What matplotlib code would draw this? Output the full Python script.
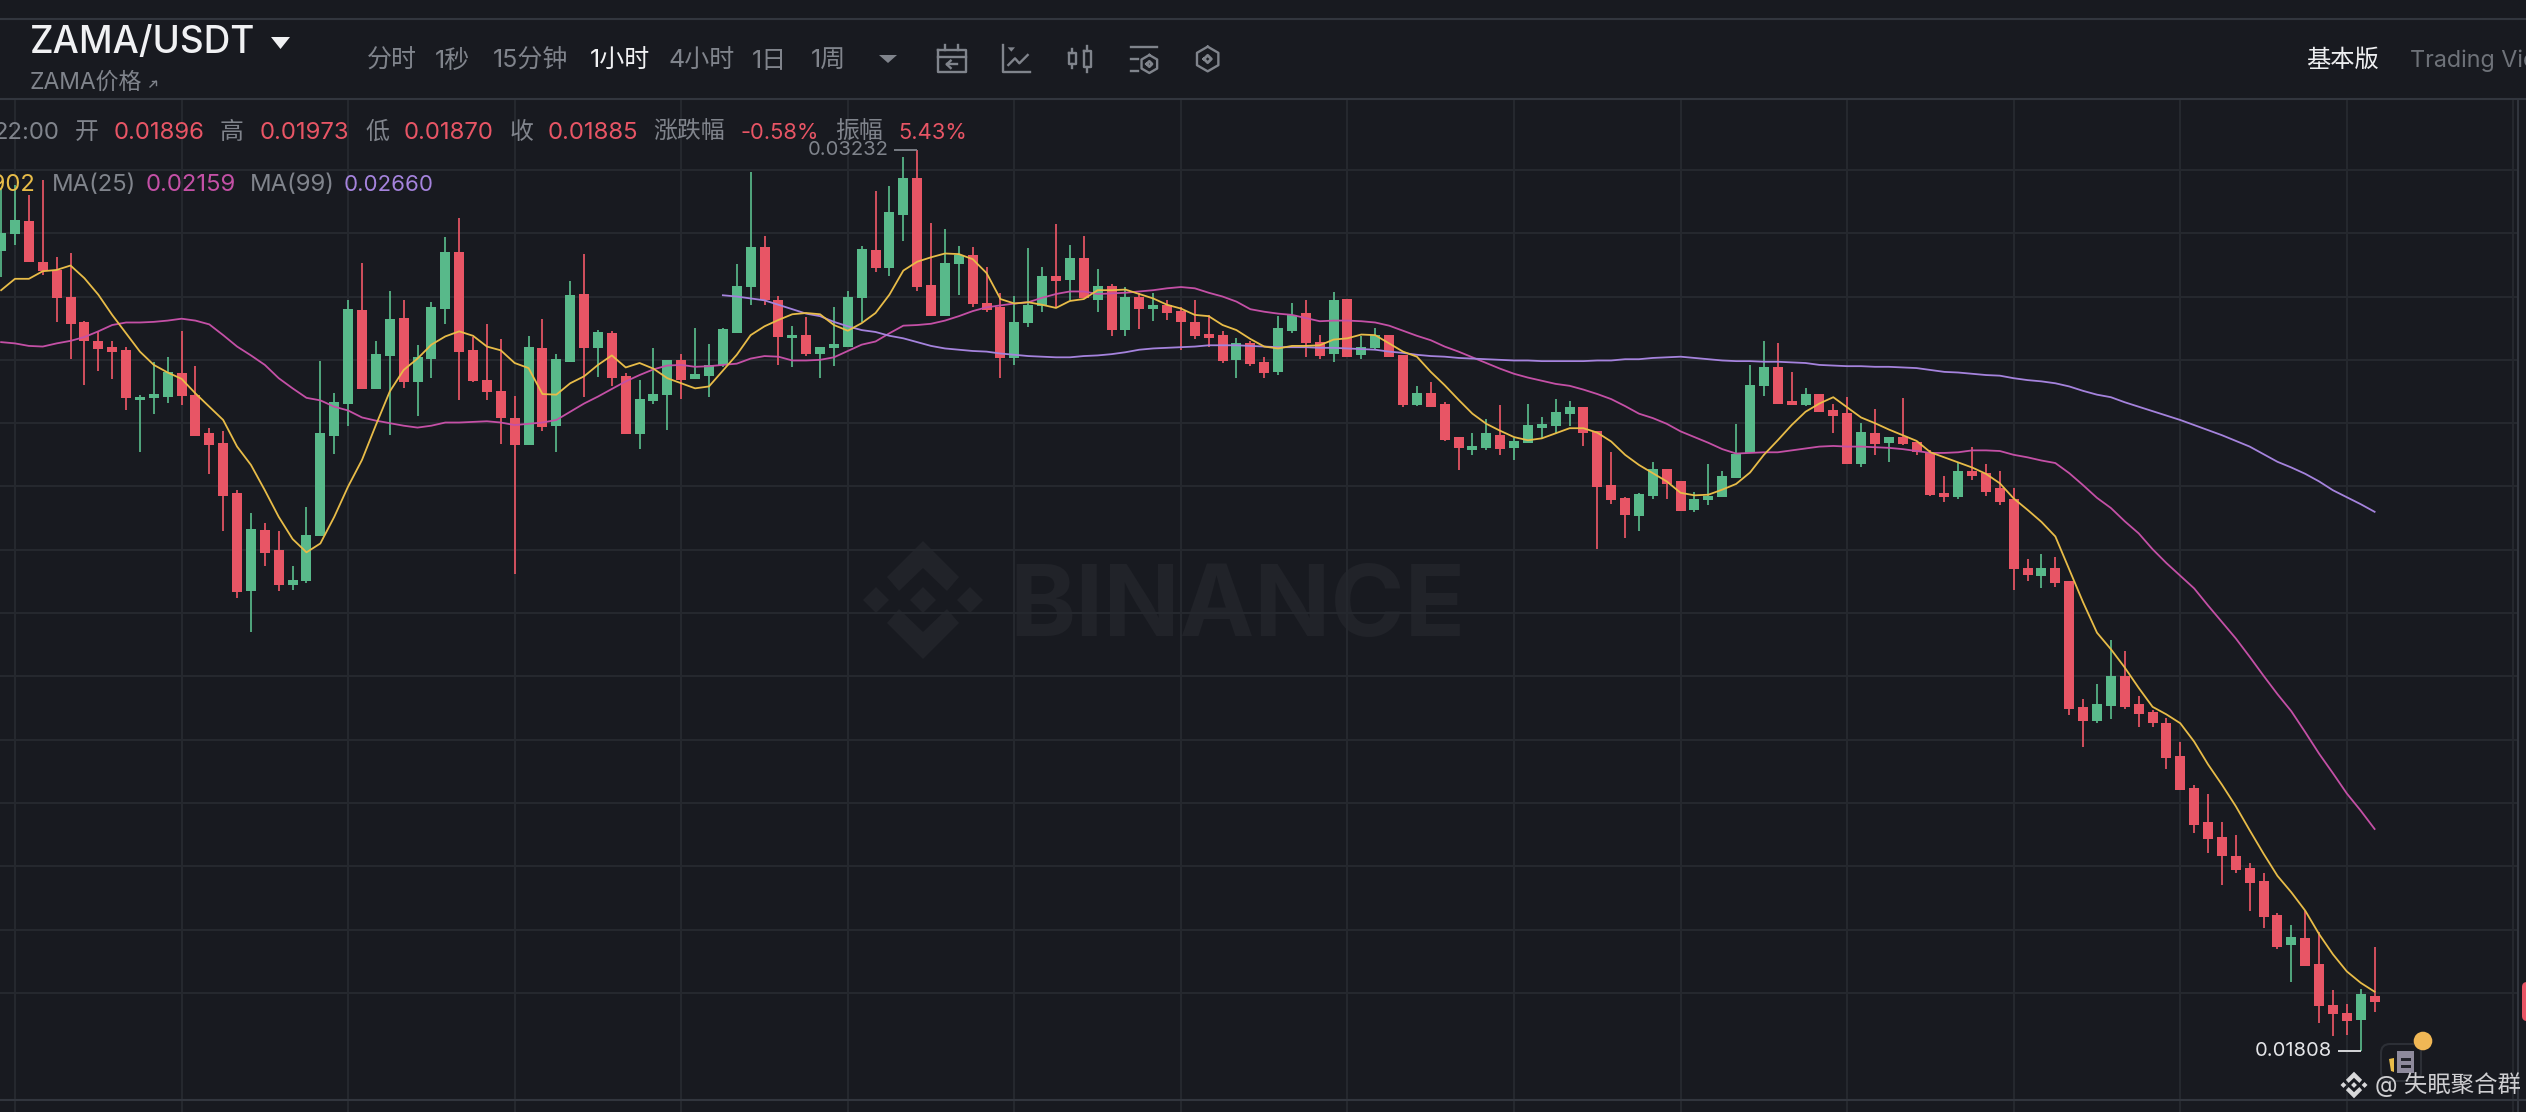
"""ZAMA/USDT 1h candles, dark Binance chart screenshot."""
import matplotlib
matplotlib.use("Agg")
import matplotlib.pyplot as plt
import matplotlib.patches as mpatches
import numpy as np

W, H = 2526, 1112

# Prices in units of 0.00001 USDT, one value per candle, candle -1 is cut by the left edge
first_candle = -1
opens = [
    3072, 3098, 3120, 3055, 3042, 3000, 2959, 2930, 2920, 2916,
    2837, 2839, 2842, 2880, 2845, 2784, 2768, 2689, 2535, 2631,
    2600, 2544, 2551, 2622, 2780, 2830, 2979, 2854, 2906, 2966,
    2865, 2901, 2980, 3071, 2916, 2868, 2851, 2808, 2766, 2919,
    2795, 2897, 3004, 2918, 2943, 2875, 2783, 2835, 2845, 2899,
    2870, 2875, 2892, 2943, 3015, 3079, 2994, 2934, 2939, 2909,
    2918, 2921, 2997, 3073, 3045, 3129, 3188, 3018, 2970, 3052,
    3066, 2990, 2983, 2903, 2958, 2985, 3033, 3026, 3061, 2995,
    3017, 2947, 3000, 2981, 2986, 2977, 2960, 2941, 2939, 2899,
    2926, 2896, 2881, 2946, 2974, 2928, 2909, 2996, 2908, 2919,
    2940, 2908, 2828, 2847, 2831, 2778, 2758, 2761, 2782, 2760,
    2769, 2792, 2796, 2815, 2825, 2787, 2702, 2682, 2654, 2685,
    2727, 2708, 2663, 2679, 2684, 2714, 2753, 2859, 2888, 2835,
    2829, 2846, 2820, 2816, 2735, 2785, 2768, 2778, 2770, 2755,
    2690, 2683, 2725, 2721, 2697, 2680, 2572, 2559, 2572, 2551,
    2351, 2330, 2354, 2400, 2357, 2343, 2326, 2274, 2224, 2170,
    2147, 2117, 2098, 2077, 2023, 1975, 1987, 1945, 1881, 1869, 1858, 1896,
]
closes = [
    3101, 3121, 3054, 3040, 2997, 2957, 2929, 2917, 2912, 2839,
    2842, 2846, 2881, 2843, 2780, 2766, 2685, 2534, 2633, 2595,
    2544, 2553, 2623, 2784, 2834, 2980, 2854, 2909, 2965, 2865,
    2904, 2983, 3071, 2913, 2866, 2850, 2808, 2766, 2920, 2794,
    2901, 3003, 2918, 2944, 2871, 2783, 2838, 2846, 2899, 2868,
    2878, 2892, 2948, 3017, 3079, 2994, 2936, 2939, 2909, 2921,
    2925, 3000, 3075, 3045, 3133, 3188, 3015, 2970, 3053, 3066,
    2988, 2978, 2903, 2960, 2986, 3033, 3025, 3061, 2997, 3016,
    2947, 3000, 2980, 2987, 2974, 2959, 2938, 2935, 2898, 2926,
    2894, 2879, 2950, 2971, 2926, 2906, 2995, 2905, 2920, 2939,
    2905, 2828, 2847, 2826, 2773, 2761, 2764, 2784, 2759, 2772,
    2797, 2799, 2817, 2825, 2784, 2699, 2678, 2655, 2688, 2727,
    2704, 2662, 2681, 2685, 2717, 2752, 2861, 2888, 2831, 2829,
    2846, 2818, 2811, 2736, 2786, 2767, 2778, 2767, 2754, 2687,
    2683, 2725, 2717, 2692, 2676, 2569, 2560, 2572, 2547, 2349,
    2330, 2356, 2401, 2351, 2340, 2326, 2271, 2220, 2166, 2143,
    2116, 2094, 2074, 2020, 1973, 1988, 1942, 1879, 1867, 1856, 1898, 1885,
]
highs = [
    3171, 3176, 3161, 3184, 3062, 3068, 2962, 2945, 2930, 2921,
    2844, 2897, 2905, 2946, 2891, 2793, 2788, 2694, 2658, 2643,
    2630, 2574, 2668, 2898, 2847, 2995, 3053, 2929, 3008, 2995,
    2923, 2991, 3094, 3124, 2936, 2957, 2933, 2843, 2938, 2965,
    2910, 3024, 3067, 2947, 2945, 2880, 2868, 2918, 2900, 2909,
    2951, 2925, 2951, 3051, 3196, 3096, 3001, 2953, 2968, 2921,
    2984, 3008, 3080, 3167, 3175, 3221, 3232, 3116, 3107, 3080,
    3078, 3046, 3006, 3001, 3076, 3046, 3114, 3082, 3096, 3043,
    3020, 3015, 3005, 3005, 2995, 2984, 2994, 2971, 2945, 2934,
    2930, 2904, 2969, 2989, 2994, 2939, 3007, 2996, 2938, 2950,
    2940, 2908, 2859, 2865, 2833, 2778, 2784, 2807, 2828, 2776,
    2830, 2809, 2838, 2835, 2826, 2788, 2754, 2684, 2689, 2738,
    2727, 2708, 2691, 2736, 2725, 2799, 2892, 2929, 2926, 2881,
    2855, 2846, 2831, 2842, 2800, 2822, 2778, 2839, 2770, 2758,
    2717, 2737, 2762, 2735, 2724, 2698, 2585, 2593, 2588, 2551,
    2365, 2388, 2457, 2440, 2369, 2347, 2334, 2297, 2228, 2215,
    2170, 2150, 2105, 2090, 2026, 2007, 2030, 1996, 1905, 1882, 1907, 1973,
]
lows = [
    3031, 3082, 3054, 3034, 2959, 2902, 2860, 2883, 2870, 2821,
    2755, 2814, 2832, 2828, 2780, 2720, 2629, 2524, 2470, 2574,
    2535, 2537, 2548, 2622, 2751, 2796, 2854, 2854, 2781, 2855,
    2812, 2871, 2957, 2837, 2865, 2837, 2767, 2562, 2766, 2787,
    2755, 2896, 2841, 2873, 2859, 2783, 2759, 2831, 2789, 2838,
    2870, 2841, 2888, 2942, 2987, 2986, 2892, 2889, 2906, 2871,
    2890, 2921, 2959, 3039, 3032, 3087, 3009, 2970, 2970, 3003,
    2983, 2976, 2871, 2892, 2952, 2976, 2984, 2995, 2997, 2976,
    2938, 2938, 2949, 2962, 2963, 2915, 2933, 2920, 2895, 2872,
    2890, 2871, 2876, 2942, 2904, 2901, 2896, 2904, 2901, 2917,
    2905, 2826, 2827, 2826, 2772, 2726, 2749, 2757, 2749, 2742,
    2768, 2776, 2784, 2796, 2764, 2601, 2672, 2619, 2629, 2680,
    2680, 2662, 2659, 2671, 2683, 2714, 2753, 2843, 2831, 2829,
    2827, 2818, 2784, 2736, 2731, 2749, 2738, 2766, 2749, 2685,
    2675, 2680, 2710, 2685, 2671, 2536, 2551, 2539, 2542, 2339,
    2289, 2327, 2333, 2349, 2320, 2320, 2254, 2220, 2153, 2121,
    2070, 2090, 2029, 2002, 1970, 1917, 1942, 1852, 1832, 1833, 1808, 1870,
]

ma7 = [
    3010, 3028, 3028, 3040, 3042, 3049, 3029, 3003, 2971, 2942,
    2913, 2892, 2880, 2870, 2847, 2826, 2805, 2763, 2734, 2694,
    2652, 2617, 2596, 2610, 2652, 2700, 2742, 2797, 2850, 2884,
    2902, 2924, 2937, 2945, 2938, 2921, 2915, 2895, 2887, 2846,
    2845, 2863, 2874, 2892, 2907, 2888, 2895, 2886, 2871, 2863,
    2855, 2858, 2883, 2908, 2939, 2953, 2963, 2972, 2974, 2972,
    2955, 2946, 2958, 2974, 3003, 3041, 3055, 3062, 3068, 3067,
    3059, 3037, 2996, 2989, 2991, 2987, 2982, 2993, 2996, 3010,
    3010, 3011, 3004, 2997, 2987, 2981, 2971, 2969, 2955, 2947,
    2933, 2921, 2918, 2922, 2922, 2923, 2932, 2934, 2940, 2939,
    2926, 2913, 2905, 2881, 2860, 2837, 2815, 2799, 2788, 2778,
    2773, 2776, 2784, 2792, 2792, 2785, 2771, 2750, 2734, 2721,
    2708, 2690, 2686, 2687, 2695, 2704, 2722, 2750, 2773, 2797,
    2818, 2831, 2841, 2825, 2809, 2800, 2790, 2781, 2772, 2754,
    2746, 2738, 2730, 2720, 2705, 2681, 2663, 2644, 2621, 2569,
    2517, 2469, 2443, 2414, 2382, 2352, 2340, 2326, 2297, 2261,
    2229, 2195, 2157, 2120, 2085, 2059, 2030, 1993, 1961, 1934, 1916, 1902,
]
ma25 = [
    2928, 2926, 2922, 2921, 2926, 2930, 2936, 2945, 2955, 2959,
    2959, 2960, 2962, 2965, 2962, 2956, 2939, 2921, 2907, 2892,
    2871, 2855, 2840, 2836, 2826, 2820, 2809, 2804, 2800, 2796,
    2793, 2796, 2801, 2801, 2802, 2803, 2801, 2797, 2799, 2801,
    2805, 2818, 2831, 2842, 2854, 2866, 2876, 2885, 2891, 2892,
    2889, 2890, 2892, 2894, 2902, 2906, 2905, 2899, 2899, 2900,
    2904, 2914, 2924, 2929, 2942, 2954, 2955, 2957, 2962, 2969,
    2977, 2983, 2986, 2989, 2991, 2998, 3004, 3008, 3008, 3004,
    3005, 3006, 3008, 3010, 3013, 3015, 3013, 3006, 3000, 2992,
    2980, 2976, 2973, 2971, 2966, 2961, 2962, 2962, 2961, 2959,
    2954, 2946, 2938, 2931, 2921, 2913, 2904, 2895, 2886, 2878,
    2872, 2867, 2862, 2859, 2853, 2846, 2838, 2827, 2815, 2808,
    2799, 2787, 2778, 2769, 2759, 2752, 2753, 2754, 2754, 2757,
    2760, 2763, 2764, 2763, 2763, 2762, 2761, 2759, 2756, 2753,
    2753, 2754, 2757, 2757, 2756, 2750, 2746, 2741, 2737, 2721,
    2702, 2682, 2666, 2645, 2626, 2601, 2579, 2559, 2539, 2512,
    2486, 2460, 2431, 2401, 2372, 2345, 2312, 2278, 2247, 2215, 2188, 2159,
]
# MA(99) only starts at candle 51
ma99_first = 51
ma99 = [
    3002, 3000, 2997, 2994, 2987, 2980, 2973, 2969,
    2960, 2953, 2947, 2944, 2938, 2934, 2928, 2922, 2918, 2916,
    2914, 2913, 2910, 2908, 2906, 2905, 2904, 2904, 2906, 2907,
    2909, 2912, 2916, 2918, 2919, 2920, 2921, 2923, 2923, 2923,
    2922, 2921, 2920, 2920, 2920, 2919, 2919, 2918, 2917, 2916,
    2913, 2911, 2908, 2906, 2905, 2903, 2902, 2901, 2900, 2899,
    2899, 2898, 2898, 2898, 2898, 2899, 2899, 2901, 2901, 2903,
    2904, 2905, 2903, 2901, 2899, 2898, 2898, 2897, 2897, 2896,
    2895, 2892, 2891, 2890, 2890, 2889, 2889, 2888, 2887, 2884,
    2881, 2880, 2878, 2876, 2875, 2871, 2868, 2866, 2863, 2858,
    2851, 2845, 2841, 2833, 2826, 2819, 2812, 2805, 2797, 2789,
    2781, 2772, 2763, 2751, 2739, 2730, 2720, 2708, 2694, 2683, 2672, 2660,
]

interval_labels = ["分时", "1秒", "15分钟", "1小时", "4小时", "1日", "1周"]
ohlc_labels = ["开", "高", "低", "收"]
ohlc_values = ["0.01896", "0.01973", "0.01870", "0.01885"]

BG = "#181A20"
GRID = "#26292F"
RULE = "#32363E"
GRAY = "#80848C"
UP = "#58B98A"
DOWN = "#E85565"
YELLOW = "#E8BC48"
MAGENTA = "#C450A6"
PURPLE = "#A583DD"
FONT = ["Inter", "Noto Sans CJK SC", "DejaVu Sans"]
ROW = 17.2  # font size of the two info rows
MENU = 18

plt.rcParams["font.family"] = FONT

fig = plt.figure(figsize=(W / 100, H / 100), dpi=100, facecolor=BG)

# Pixel layers: one under the chart for the watermark, one above it for the header
back = fig.add_axes([0, 0, 1, 1], zorder=0)
ui = fig.add_axes([0, 0, 1, 1], zorder=2)
for a in (back, ui):
    a.set_xlim(0, W)
    a.set_ylim(H, 0)
    a.axis("off")
back.set_facecolor(BG)


def logo(target, cx, cy, s, color):
    """Binance diamond mark, s=1 is about 120 px wide."""
    top = [(0, -59), (36, -23), (24, -9), (0, -32), (-24, -9), (-36, -23)]
    bottom = [(x, -y) for x, y in top]
    for shape in (top, bottom):
        target.add_patch(mpatches.Polygon([(cx + x * s, cy + y * s) for x, y in shape],
                                          closed=True, fc=color, ec="none"))
    for dx in (-47, 0, 47):
        target.add_patch(mpatches.Polygon(
            [(cx + (dx - 13) * s, cy), (cx + dx * s, cy - 13 * s),
             (cx + (dx + 13) * s, cy), (cx + dx * s, cy + 13 * s)],
            closed=True, fc=color, ec="none"))


logo(back, 923, 600, 1.0, "#212329")
back.text(1237, 600, "BINANCE", color="#212329", fontsize=72, fontweight="bold",
          ha="center", va="center_baseline", family=FONT)

# Price chart
ax = fig.add_axes([0, 0, 2518 / W, (H - 99) / H], zorder=1)
ax.patch.set_alpha(0)
x_per_px = 1 / 13.88
ax.set_xlim(-15 * x_per_px, (2518 - 15) * x_per_px)
ax.set_ylim(0.01712, 0.03312)
ax.set_xticks(np.arange(0, 181, 12))
ax.set_yticks(np.arange(19, 33) / 1000)
ax.grid(True, color=GRID, lw=1.4)
ax.set_axisbelow(True)
ax.tick_params(left=False, bottom=False, labelleft=False, labelbottom=False)
for name, spine in ax.spines.items():
    spine.set_visible(name == "right")
    spine.set_color(RULE)
    spine.set_linewidth(1.4)

o = np.array(opens) / 1e5
c = np.array(closes) / 1e5
hi = np.array(highs) / 1e5
lo = np.array(lows) / 1e5
x = np.arange(first_candle, first_candle + len(o))
colors = [UP if b >= a else DOWN for a, b in zip(o, c)]

ax.vlines(x, lo, hi, colors=colors, lw=1.25, zorder=3)
ax.bar(x, np.abs(c - o), bottom=np.minimum(o, c), width=0.72, color=colors, lw=0, zorder=3)

ax.plot(x, np.array(ma25) / 1e5, color=MAGENTA, lw=1.3, zorder=4)
ax.plot(np.arange(ma99_first, ma99_first + len(ma99)), np.array(ma99) / 1e5,
        color=PURPLE, lw=1.3, zorder=4)
ax.plot(x, np.array(ma7) / 1e5, color=YELLOW, lw=1.3, zorder=5)

# High and low markers, anchored on their candles
top_i = int(np.argmax(hi))
low_i = int(np.argmin(lo))
for i, col in ((top_i, GRAY), (low_i, "#E4E5E8")):
    y = (hi[i] if i == top_i else lo[i])
    ax.plot([x[i] - 23 * x_per_px, x[i]], [y, y], color=col, lw=1.3, zorder=5, solid_capstyle="butt")
    ax.annotate(f"{y:.5f}", xy=(x[i], y), xytext=(-29, 0), textcoords="offset pixels",
                color=col, fontsize=14.5, ha="right", va="center", zorder=6)

# Header rules and bottom rule
for yy in (19, 99, 1100):
    ui.plot([0, W], [yy, yy], color=RULE, lw=1.5, solid_capstyle="butt")

ui.text(30, 43, "ZAMA/USDT", color="#F0F1F3", fontsize=26.6, va="center", fontweight="medium")
ui.add_patch(mpatches.Polygon([(271, 37), (290, 37), (280.5, 49)], closed=True, fc="#F0F1F3", ec="none"))
ui.text(30, 83, "ZAMA价格", color=GRAY, fontsize=16.5, va="center")
ui.plot([150, 156], [87, 81], color=GRAY, lw=1)
ui.plot([152, 156, 156], [81, 81, 85], color=GRAY, lw=1)

interval_x = [367, 435, 493, 590, 668, 752, 811]
for label, xx in zip(interval_labels, interval_x):
    is_active = label == "1小时"
    ui.text(xx, 61, label, color="#F0F1F3" if is_active else GRAY, fontsize=MENU, va="center")
ui.add_patch(mpatches.Polygon([(879, 55), (897, 55), (888, 63)], closed=True, fc=GRAY, ec="none"))

ui.text(2306, 60, "基本版", color="#EDEEF0", fontsize=17.5, va="center")
ui.text(2410, 61, "Trading View", color="#6E7279", fontsize=16.8, va="center", clip_on=True)


def z(px, py):
    # icon strip zoom coordinates to figure pixels
    return 900 + px / 3, 30 + py / 3


def stroke(points, lw=1.7):
    xs, ys = zip(*[z(*p) for p in points])
    ui.plot(xs, ys, color=GRAY, lw=lw, solid_joinstyle="round")


def hexagon(cx, cy, r):
    ang = np.radians(np.arange(-90, 300, 60))
    stroke([(cx + r * np.cos(a), cy + r * np.sin(a)) for a in ang])
    d = r * 0.3
    stroke([(cx - d, cy), (cx, cy - d), (cx + d, cy), (cx, cy + d), (cx - d, cy)], lw=2)


# calendar
stroke([(115, 60), (197, 60), (197, 127), (115, 127), (115, 60)])
stroke([(115, 80), (197, 80)])
stroke([(135, 45), (135, 60)])
stroke([(175, 45), (175, 60)])
stroke([(172, 103), (140, 103)])
stroke([(152, 92), (140, 103), (152, 114)])
# line chart
stroke([(308, 45), (308, 125), (390, 125)])
stroke([(325, 105), (345, 85), (358, 100), (383, 75)])
ui.add_patch(mpatches.Polygon([z(323, 52), z(345, 52), z(334, 65)], closed=True, fc=GRAY, ec="none"))
# candles
stroke([(507, 70), (527, 70), (527, 103), (507, 103), (507, 70)])
stroke([(517, 58), (517, 70)])
stroke([(517, 103), (517, 115)])
stroke([(552, 62), (572, 62), (572, 110), (552, 110), (552, 62)])
stroke([(562, 48), (562, 62)])
stroke([(562, 110), (562, 125)])
# settings
stroke([(692, 50), (772, 50)])
stroke([(692, 88), (715, 88)])
stroke([(692, 122), (715, 122)])
hexagon(748, 102, 27)
hexagon(923, 87, 37)

# OHLC row
ui.text(59, 133, "22:00", color=GRAY, fontsize=ROW, va="center", ha="right")
for label, value, lx, vx in zip(ohlc_labels, ohlc_values, [75, 220, 365, 510], [114, 260, 404, 548]):
    ui.text(lx, 133, label, color=GRAY, fontsize=ROW, va="center")
    ui.text(vx, 133, value, color=DOWN, fontsize=ROW, va="center")
ui.text(653, 133, "涨跌幅", color=GRAY, fontsize=ROW, va="center")
ui.text(741, 133, "-0.58%", color=DOWN, fontsize=15.8, va="center")
ui.text(835, 133, "振幅", color=GRAY, fontsize=ROW, va="center")
ui.text(898, 133, "5.43%", color=DOWN, fontsize=15.8, va="center")

# MA row, the first value runs off the left edge
ui.text(36, 185, "0.01902", color=YELLOW, fontsize=ROW, va="center", ha="right")
ui.text(52, 185, "MA(25)", color=GRAY, fontsize=ROW, va="center")
ui.text(146, 185, "0.02159", color=MAGENTA, fontsize=ROW, va="center")
ui.text(250, 185, "MA(99)", color=GRAY, fontsize=ROW, va="center")
ui.text(344, 185, "0.02660", color=PURPLE, fontsize=16, va="center")

# Corner badge and post watermark
ui.add_patch(mpatches.FancyBboxPatch((2381, 1044), 40, 37, boxstyle="round,pad=0,rounding_size=9",
                                     fc=BG, ec="#2C2F36", lw=1.5))
ui.add_patch(mpatches.Polygon([(2389, 1059), (2394, 1058), (2394, 1072), (2391, 1071)],
                              closed=True, fc="#E8BC48", ec="none"))
ui.add_patch(mpatches.Rectangle((2397, 1051), 17, 22, fc="#8E8A9C", ec="none"))
for yy in (1058, 1065):
    ui.add_patch(mpatches.Rectangle((2401, yy), 10, 3, fc="#22232A", ec="none"))
ui.add_patch(mpatches.Circle((2423, 1041), 9.3, fc="#F0B755", ec="none"))
ui.add_patch(mpatches.FancyBboxPatch((2522, 982), 12, 39, boxstyle="round,pad=0,rounding_size=5",
                                     fc=DOWN, ec="none"))

logo(ui, 2354, 1085, 0.225, "#D8D8DA")
ui.text(2375, 1085, "@ 失眠聚合群", color="#CFCFD2", fontsize=16.8, va="center")

fig.savefig("out.png", dpi=100, facecolor=BG)
print("saved out.png")
